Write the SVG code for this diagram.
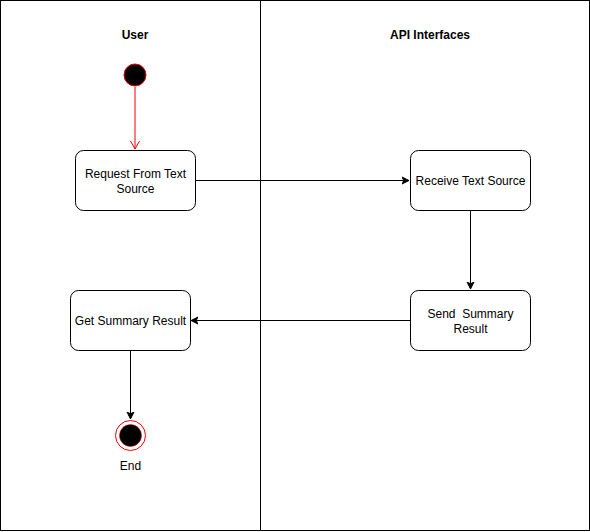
<svg xmlns="http://www.w3.org/2000/svg" width="590" height="532" viewBox="0 0 590 532">
<style>
text{font-family:"Liberation Sans",Arial,sans-serif;font-size:12px;fill:#000;text-anchor:middle}
.h{font-weight:bold;font-size:12px}
.box{fill:#fff;stroke:#000;stroke-width:1}
.edge{fill:none;stroke:#000;stroke-width:1}
</style>
<defs>
<marker id="a" markerWidth="10" markerHeight="10" refX="7" refY="5" orient="auto" markerUnits="userSpaceOnUse">
<path d="M0,1.5 L7,5 L0,8.5 L1.8,5 Z" fill="#000" stroke="#000" stroke-width="1"/>
</marker>
<marker id="o" markerWidth="12" markerHeight="12" refX="9" refY="6" orient="auto" markerUnits="userSpaceOnUse">
<path d="M1,1.5 L9,6 L1,10.5" fill="none" stroke="#e00" stroke-width="1"/>
</marker>
</defs>
<rect x="0.5" y="0.5" width="589" height="530" fill="#fff" stroke="#000"/>
<line x1="260.5" y1="0.5" x2="260.5" y2="530.5" stroke="#000"/>
<g id="lanes">
<text class="h" x="135" y="39">User</text>
<text class="h" x="430" y="39">API Interfaces</text>
</g>
<g id="connectors">
<line class="edge" x1="135" y1="87" x2="135" y2="149" style="stroke:#e00" marker-end="url(#o)"/>
<line class="edge" x1="195" y1="180.5" x2="409" y2="180.5" marker-end="url(#a)"/>
<line class="edge" x1="470.5" y1="210" x2="470.5" y2="289" marker-end="url(#a)"/>
<line class="edge" x1="410" y1="320.5" x2="191" y2="320.5" marker-end="url(#a)"/>
<line class="edge" x1="130.5" y1="350" x2="130.5" y2="419" marker-end="url(#a)"/>
</g>
<g id="start">
<circle cx="135" cy="75" r="11" fill="#000" stroke="#e00"/>
</g>
<g id="request">
<rect class="box" x="75.5" y="150.5" width="120" height="60" rx="8"/>
<text x="135.5" y="177.5">Request From Text</text>
<text x="135.5" y="192.5">Source</text>
</g>
<g id="receive">
<rect class="box" x="410.5" y="150.5" width="120" height="60" rx="8"/>
<text x="470.5" y="184.5">Receive Text Source</text>
</g>
<g id="send">
<rect class="box" x="410.5" y="290.5" width="120" height="60" rx="8"/>
<text x="470.5" y="317.5" xml:space="preserve">Send  Summary</text>
<text x="470.5" y="332.5">Result</text>
</g>
<g id="get">
<rect class="box" x="70.5" y="290.5" width="120" height="60" rx="8"/>
<text x="130.5" y="324.5">Get Summary Result</text>
</g>
<g id="end">
<circle cx="130.5" cy="435.5" r="15" fill="#fff" stroke="#e00"/>
<circle cx="130.5" cy="435.5" r="11" fill="#000" stroke="#e00" stroke-width="0.5"/>
<text x="130.5" y="469.5">End</text>
</g>
</svg>
